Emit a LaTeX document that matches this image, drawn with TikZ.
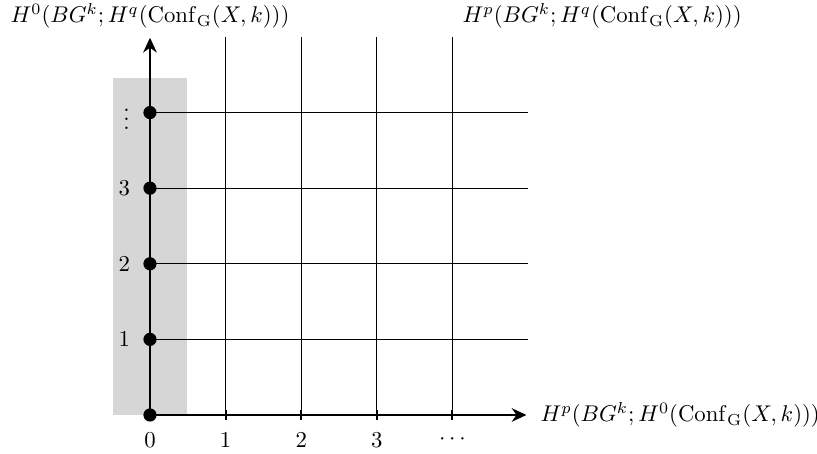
\documentclass[tikz,border=0pt]{standalone}
\usetikzlibrary{arrows.meta}
\begin{document}
\begin{tikzpicture}[x=1.168cm,y=1.168cm,
  gridline/.style={black,line width=0.4pt},
  axis/.style={black,line width=0.9pt,-{Stealth[length=6.5pt,width=6pt]}},
  dot/.style={circle,fill=black,inner sep=0pt,minimum size=5.8pt},
  lab/.style={inner sep=1pt}]
\useasboundingbox (-1.984,-0.516) rectangle (8.823,5.489);
\fill[gray!32] (-0.49,0) rectangle (0.49,4.46);
\foreach \i in {1,...,4} \draw[gridline] (\i,0) -- (\i,5);
\foreach \j in {1,...,4} \draw[gridline] (0,\j) -- (5,\j);
\foreach \i in {1,...,4} \draw[line width=0.9pt] (\i,-0.06) -- (\i,0.06);
\coordinate (o) at (0,0);
\coordinate (xe) at (4.98,0);
\coordinate (ye) at (0,4.99);
\draw[axis] (o) -- (xe);
\draw[axis] (o) -- (ye);
\foreach \j in {0,...,4} \node[dot] (d\j) at (0,\j) {};
\node[lab] (l1) at (-0.34,1) {1};
\node[lab] (l2) at (-0.34,2) {2};
\node[lab] (l3) at (-0.34,3) {3};
\node[lab] (l4) at (-0.31,4) {$\vdots$};
\node[lab] (b0) at (0,-0.33) {0};
\node[lab] (b1) at (1,-0.33) {1};
\node[lab] (b2) at (2,-0.33) {2};
\node[lab] (b3) at (3,-0.33) {3};
\node[lab] (b4) at (4,-0.33) {$\cdots$};
\node[lab,anchor=west] (xl) at (5.13,0) {$H^p(BG^k;H^0(\mathrm{Conf}_{\mathrm{G}}(X,k)))$};
\node[lab] (yl) at (0.0,5.28) {$H^0(BG^k;H^q(\mathrm{Conf}_{\mathrm{G}}(X,k)))$};
\node[lab] (tl) at (5.98,5.28) {$H^p(BG^k;H^q(\mathrm{Conf}_{\mathrm{G}}(X,k)))$};
\end{tikzpicture}
\end{document}
